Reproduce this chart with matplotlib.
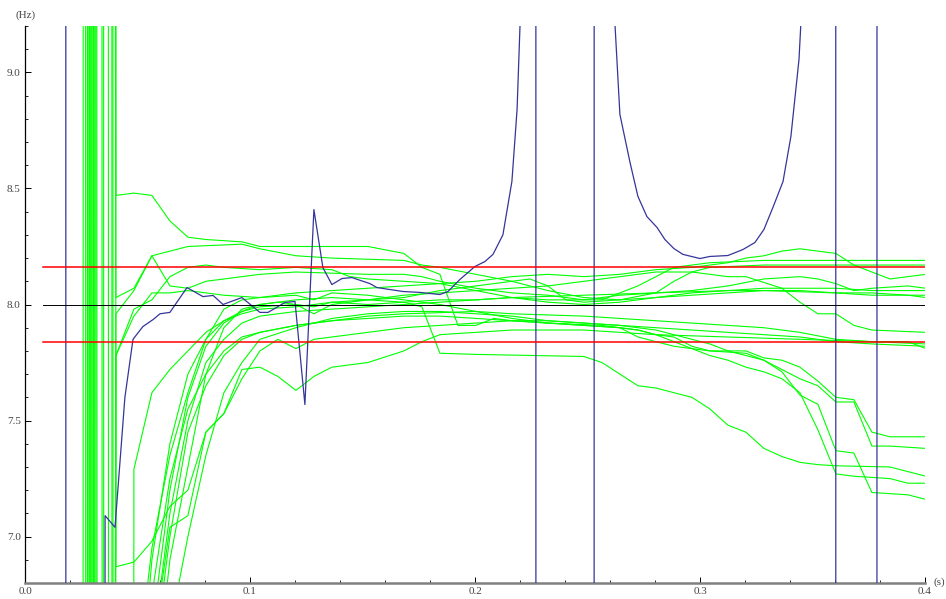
import matplotlib
matplotlib.use("Agg")
import matplotlib.pyplot as plt
from matplotlib.ticker import MultipleLocator

# frequency estimate (blue), with its jumps through +/- infinity
blue_t = [0.0, 0.0178, 0.0186, 0.0316, 0.0356, 0.0400, 0.0444, 0.0480, 0.0524, 0.0569,
          0.0600, 0.0644, 0.0720, 0.0791, 0.0836, 0.0880, 0.0964, 0.1044, 0.1080, 0.1156,
          0.1200, 0.1244, 0.1284, 0.1324, 0.1364, 0.1409, 0.1453, 0.1533, 0.1564, 0.1680,
          0.1756, 0.1844, 0.1880, 0.1933, 0.2000, 0.2044, 0.2080, 0.2124, 0.2164, 0.2187,
          0.2209, 0.2268, 0.2274, 0.2525, 0.2533, 0.2600, 0.2644, 0.2689, 0.2724, 0.2764,
          0.2809, 0.2844, 0.2884, 0.2924, 0.3000, 0.3044, 0.3124, 0.3191, 0.3244, 0.3284,
          0.3324, 0.3369, 0.3404, 0.3440, 0.3480, 0.3600, 0.3608, 0.3782, 0.3790, 0.4000]
blue_hz = [60, 60, -60, -60, 7.09, 7.04, 7.60, 7.85, 7.905, 7.935,
           7.96, 7.966, 8.073, 8.034, 8.039, 8.0, 8.03, 7.966, 7.966, 8.009,
           8.013, 7.569, 8.409, 8.159, 8.086, 8.112, 8.116, 8.09, 8.073, 8.056,
           8.052, 8.043, 8.056, 8.108, 8.164, 8.185, 8.216, 8.30, 8.53, 8.84,
           9.45, 60, -60, -60, 60, 9.6, 8.819, 8.612, 8.466, 8.379,
           8.332, 8.28, 8.241, 8.216, 8.198, 8.207, 8.211, 8.237, 8.267, 8.323,
           8.418, 8.53, 8.724, 9.056, 9.8, 60, -60, -60, 60, 60]

# green estimates: sample grid, then (sample index, Hz) per trace
green_t0 = 0.0244
green_dt = 0.008
green_n = 48

g01 = [(0, -300), (1, 400), (2, 8.47), (3, 8.48), (4, 8.47), (5, 8.36), (6, 8.29), (7, 8.28), (9, 8.27),
       (10, 8.25), (16, 8.25), (18, 8.22), (19, 8.16), (20, 8.13), (21, 7.91), (22, 7.91), (23, 7.94),
       (24, 7.93), (26, 7.92), (29, 7.91), (31, 7.89), (32, 7.87), (33, 7.86), (34, 7.82), (35, 7.80),
       (37, 7.80), (38, 7.77), (39, 7.76), (40, 7.73), (41, 7.67), (42, 7.60), (43, 7.59), (44, 7.45),
       (45, 7.43), (47, 7.43)]
g02 = [(0, 200), (1, -88), (2, 7.78), (3, 7.95), (4, 8.05), (5, 8.05), (6, 8.06), (7, 8.05), (8, 8.04),
       (10, 8.03), (12, 8.04), (13, 8.02), (14, 8.05), (16, 8.04), (18, 8.02), (20, 8.00), (22, 7.97),
       (24, 7.94), (26, 7.92), (28, 7.91), (30, 7.90), (31, 7.86), (32, 7.84), (33, 7.82), (35, 7.80),
       (37, 7.79), (38, 7.76), (39, 7.72), (40, 7.68), (41, 7.65), (42, 7.58), (43, 7.58), (44, 7.39),
       (45, 7.39), (47, 7.38)]
g03 = [(0, -200), (1, 50), (2, 8.03), (3, 8.07), (4, 8.21), (5, 8.23), (6, 8.25), (9, 8.26), (10, 8.24),
       (12, 8.21), (14, 8.20), (18, 8.19), (19, 8.17), (20, 8.16), (22, 8.13), (24, 8.10), (26, 8.06),
       (28, 8.03), (30, 8.02), (32, 8.05), (33, 8.10), (34, 8.14), (35, 8.16), (38, 8.17), (47, 8.17)]
g04 = [(0, 300), (1, -28), (2, 7.96), (3, 8.06), (4, 8.21), (5, 8.08), (6, 8.07), (7, 8.10), (8, 8.11),
       (9, 8.12), (10, 8.13), (12, 8.14), (16, 8.13), (18, 8.13), (19, 8.12), (20, 8.10), (22, 8.07),
       (24, 8.05), (26, 8.04), (28, 8.02), (29, 8.02), (30, 8.05), (31, 8.08), (32, 8.12), (33, 8.16),
       (35, 8.18), (38, 8.19), (47, 8.19)]
g05 = [(0, -100), (1, 500), (2, -132), (3, 6.3), (4, 6.95), (5, 7.35), (6, 7.62), (7, 7.85), (8, 7.98),
       (9, 8.02), (10, 8.03), (12, 8.05), (14, 8.06), (16, 8.07), (18, 8.08), (20, 8.09), (22, 8.10),
       (24, 8.12), (26, 8.13), (28, 8.12), (30, 8.13), (32, 8.15), (34, 8.16), (36, 8.18), (37, 8.20),
       (38, 8.21), (39, 8.23), (40, 8.24), (41, 8.23), (42, 8.22), (43, 8.17), (44, 8.14), (45, 8.11),
       (46, 8.12), (47, 8.13)]
g06 = [(0, 200), (1, -400), (2, -100), (3, 7.29), (4, 7.62), (5, 7.72), (6, 7.80), (7, 7.88), (8, 7.93),
       (9, 7.96), (10, 7.98), (12, 7.99), (14, 8.01), (16, 8.00), (18, 8.01), (20, 8.02), (22, 8.02),
       (24, 8.03), (26, 8.02), (28, 8.02), (30, 8.04), (32, 8.05), (34, 8.06), (36, 8.08), (38, 8.11),
       (40, 8.12), (41, 8.11), (42, 8.09), (43, 8.06), (44, 8.07), (46, 8.08), (47, 8.07)]
g07 = [(0, -300), (1, 200), (2, -400), (3, 5.8), (4, 6.5), (5, 7.1), (6, 7.5), (7, 7.75), (8, 7.85),
       (9, 7.92), (10, 7.95), (12, 7.97), (14, 7.98), (16, 7.99), (18, 8.00), (20, 8.01), (22, 8.02),
       (24, 8.03), (28, 8.04), (32, 8.05), (36, 8.06), (40, 8.06), (42, 8.05), (44, 8.05), (46, 8.04),
       (47, 8.03)]
g08 = [(0, 300), (1, -225), (2, -50), (3, 5.9), (4, 6.6), (5, 7.2), (6, 7.6), (7, 7.82), (8, 7.92),
       (9, 7.97), (10, 7.99), (12, 8.00), (13, 7.99), (14, 8.01), (16, 8.02), (18, 8.04), (20, 8.05),
       (22, 8.06), (24, 8.07), (26, 8.08), (28, 8.10), (30, 8.12), (32, 8.14), (34, 8.14), (35, 8.13),
       (36, 8.12), (37, 8.12), (39, 8.07), (40, 8.01), (41, 7.96), (42, 7.96), (43, 7.91), (44, 7.89),
       (47, 7.88)]
g09 = [(0, -300), (1, 100), (2, -300), (3, 6.2), (4, 6.75), (5, 7.25), (6, 7.55), (7, 7.70), (8, 7.80),
       (9, 7.86), (10, 7.88), (12, 7.91), (14, 7.93), (16, 7.95), (18, 7.96), (22, 7.97), (24, 7.96),
       (28, 7.95), (30, 7.94), (32, 7.93), (34, 7.92), (36, 7.91), (38, 7.90), (40, 7.88), (42, 7.85),
       (44, 7.84), (46, 7.84), (47, 7.81)]
g10 = [(0, 200), (1, -3), (2, -100), (3, 6.0), (4, 6.9), (5, 7.4), (6, 7.7), (7, 7.85), (8, 7.93),
       (9, 7.97), (10, 8.00), (12, 8.02), (14, 8.03), (16, 8.02), (18, 8.01), (19, 7.99), (20, 7.79),
       (22, 7.785), (28, 7.776), (29, 7.75), (30, 7.70), (31, 7.65), (32, 7.64), (33, 7.62), (34, 7.60),
       (35, 7.55), (36, 7.48), (37, 7.45), (38, 7.38), (39, 7.345), (40, 7.32), (41, 7.31), (42, 7.305),
       (45, 7.30), (46, 7.28), (47, 7.26)]
g11 = [(0, -200), (1, 300), (2, -200), (3, 5.5), (4, 6.4), (5, 7.0), (6, 7.45), (7, 7.65), (8, 7.78),
       (9, 7.85), (10, 7.88), (12, 7.91), (14, 7.93), (16, 7.94), (18, 7.95), (20, 7.95), (22, 7.94),
       (24, 7.93), (26, 7.92), (28, 7.91), (30, 7.90), (31, 7.89), (32, 7.87), (33, 7.84), (34, 7.81),
       (35, 7.78), (36, 7.76), (37, 7.73), (38, 7.71), (39, 7.68), (40, 7.62), (41, 7.46), (42, 7.27),
       (43, 7.26), (45, 7.25), (46, 7.23), (47, 7.23)]
g12 = [(0, 300), (1, -100), (2, -300), (3, 5.0), (4, 5.9), (5, 6.6), (6, 7.0), (7, 7.35), (8, 7.62),
       (9, 7.75), (10, 7.85), (12, 7.90), (14, 7.94), (16, 7.96), (18, 7.97), (20, 7.97), (22, 7.96),
       (24, 7.95), (26, 7.93), (28, 7.92), (30, 7.91), (31, 7.90), (32, 7.89), (33, 7.87), (34, 7.85),
       (35, 7.83), (36, 7.80), (37, 7.78), (38, 7.76), (39, 7.71), (40, 7.61), (41, 7.57), (42, 7.37),
       (43, 7.36), (44, 7.19), (46, 7.18), (47, 7.16)]
g13 = [(0, -300), (1, 300), (2, 6.87), (3, 6.89), (4, 6.98), (5, 7.13), (6, 7.20), (7, 7.45), (8, 7.53),
       (9, 7.72), (10, 7.73), (11, 7.69), (12, 7.63), (13, 7.69), (14, 7.73), (16, 7.75), (18, 7.80),
       (19, 7.84), (20, 7.87), (22, 7.88), (24, 7.89), (28, 7.89), (32, 7.87), (36, 7.86), (40, 7.85),
       (44, 7.84), (47, 7.83)]
g14 = [(0, 400), (1, -300), (2, -300), (3, 5.2), (4, 6.2), (5, 6.9), (6, 7.3), (7, 7.7), (8, 7.9),
       (9, 7.98), (10, 8.00), (11, 8.01), (12, 8.00), (13, 7.96), (14, 8.00), (16, 8.02), (18, 8.03),
       (20, 8.06), (22, 8.08), (24, 8.10), (25, 8.11), (26, 8.08), (27, 8.02), (28, 8.01), (30, 8.02),
       (32, 8.03), (34, 8.04), (36, 8.05), (38, 8.06), (42, 8.05), (44, 8.04), (47, 8.04)]
g15 = [(0, 200), (1, -47), (2, 7.78), (3, 7.98), (4, 8.02), (5, 8.12), (6, 8.16), (7, 8.17), (8, 8.16),
       (10, 8.15), (12, 8.16), (14, 8.15), (15, 8.12), (16, 8.11), (18, 8.10), (20, 8.09), (22, 8.06),
       (24, 8.03), (26, 8.01), (28, 8.00), (30, 8.01), (32, 8.03), (34, 8.05), (36, 8.06), (38, 8.07),
       (42, 8.07), (44, 8.06), (47, 8.06)]
g16 = [(0, -250), (1, 350), (2, -60), (3, 6.0), (4, 6.5), (5, 7.04), (6, 7.09), (7, 7.45), (8, 7.53),
       (9, 7.68), (10, 7.80), (11, 7.85), (12, 7.81), (13, 7.85), (14, 7.86), (16, 7.88), (18, 7.90),
       (20, 7.91), (22, 7.92), (24, 7.93), (26, 7.93), (28, 7.92), (30, 7.91), (32, 7.90), (34, 7.89),
       (36, 7.88), (38, 7.87), (40, 7.86), (42, 7.84), (44, 7.83), (47, 7.82)]
green_traces = [g01, g02, g03, g04, g05, g06, g07, g08, g09, g10, g11, g12, g13, g14, g15, g16]

# reference levels
f_nominal = 8.0
f_band = [7.84, 8.16]
ref_start = 0.008

x_ticks = [0.0, 0.1, 0.2, 0.3, 0.4]
x_labels = ["0.0", "0.1", "0.2", "0.3", "0.4"]
y_ticks = [7.0, 7.5, 8.0, 8.5, 9.0]
y_labels = ["7.0", "7.5", "8.0", "8.5", "9.0"]

label_font = "Liberation Serif"
label_color = "#444444"

fig = plt.figure(figsize=(9.46, 5.99), dpi=100)
ax = fig.add_axes([25 / 946, 16 / 599, 900 / 946, 557 / 599])

green_t = [green_t0 + green_dt * i for i in range(green_n)]
for trace in green_traces:
    idx, hz = zip(*trace)
    ax.plot([green_t[i] for i in idx], hz, color="#00ff00", lw=0.8, zorder=2)

ax.plot(blue_t, blue_hz, color="#35359a", lw=0.9, zorder=3)

ax.plot([ref_start, 0.4], [f_nominal, f_nominal], color="black", lw=0.7, zorder=4)
for level in f_band:
    ax.plot([ref_start, 0.4], [level, level], color="#ff0000", lw=1.1, zorder=5)

ax.set_xlim(0, 0.4)
ax.set_ylim(6.8, 9.2)

for side in ("top", "right"):
    ax.spines[side].set_visible(False)
ax.spines["left"].set_color("black")
ax.spines["left"].set_linewidth(0.9)
ax.spines["bottom"].set_color("#808080")
ax.spines["bottom"].set_linewidth(1.8)

ax.set_xticks(x_ticks)
ax.set_xticklabels(x_labels)
ax.set_yticks(y_ticks)
ax.set_yticklabels(y_labels)
ax.xaxis.set_minor_locator(MultipleLocator(0.02))
ax.yaxis.set_minor_locator(MultipleLocator(0.1))
ax.tick_params(which="major", direction="in", length=4, width=0.7, color="black",
               labelsize=8, labelcolor=label_color, pad=3)
ax.tick_params(which="minor", direction="in", length=2, width=0.6, color="black")
for lab in ax.get_xticklabels() + ax.get_yticklabels():
    lab.set_fontfamily(label_font)

fig.text(26 / 946, 1 - 15 / 599, "(Hz)", ha="center", va="center",
         fontsize=8, color=label_color, family=label_font)
fig.text(933 / 946, 1 - 582 / 599, "(s)", ha="left", va="center",
         fontsize=8, color=label_color, family=label_font)

fig.savefig("out.png", dpi=100)
